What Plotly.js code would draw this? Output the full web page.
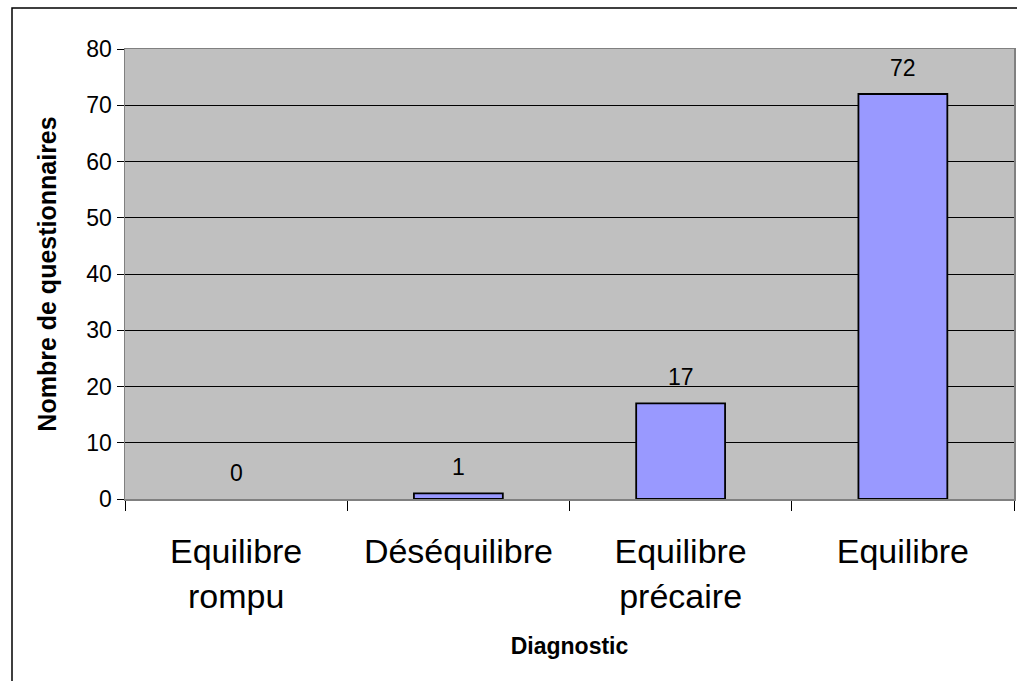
<!DOCTYPE html>
<html>
<head>
<meta charset="utf-8">
<script src="https://cdn.plot.ly/plotly-3.0.1.min.js"></script>
<style>html,body{margin:0;padding:0;background:#fff;}#chart{width:1017px;height:681px;}</style>
</head>
<body>
<div id="chart"></div>
<script>
var categories = ["Equilibre<br>rompu", "Déséquilibre", "Equilibre<br>précaire", "Equilibre"];
var counts = [0, 1, 17, 72];
var yTickValues = [0, 10, 20, 30, 40, 50, 60, 70, 80];

var W = 1017, H = 681;
var L = 125, R = 3, T = 49, B = 182;
var pw = W - L - R, ph = H - T - B;
function px(x){ return (x - L) / pw; }
function py(y){ return (H - B - y) / ph; }

var FONT = "Liberation Sans, Arial, sans-serif";

var trace = {
  type: "bar",
  x: categories,
  y: counts,
  marker: {
    color: "#9999ff",
    line: { color: "#000000", width: counts.map(function(v){ return v > 0 ? 1.8 : 0; }) }
  },
  hoverinfo: "none"
};

var annotations = categories.map(function(c, i){
  return {
    x: c, y: counts[i], xref: "x", yref: "y",
    text: String(counts[i]), showarrow: false,
    yanchor: "bottom", yshift: 11,
    font: { family: FONT, size: 23, color: "#000" }
  };
});

var layout = {
  width: W, height: H,
  margin: { l: L, r: R, t: T, b: B, pad: 0 },
  paper_bgcolor: "#ffffff",
  plot_bgcolor: "#c0c0c0",
  showlegend: false,
  bargap: 0.6,
  font: { family: FONT, color: "#000" },
  xaxis: {
    type: "category",
    tickson: "boundaries",
    ticks: "outside", ticklen: 10, tickcolor: "#000", tickwidth: 1,
    ticklabelstandoff: 22,
    showline: true, linecolor: "#808080", linewidth: 1.5, mirror: true,
    showgrid: false,
    tickfont: { family: FONT, size: 34, color: "#000" },
    title: { text: "<b>Diagnostic</b>", font: { family: FONT, size: 23, color: "#000" }, standoff: 24 }
  },
  yaxis: {
    range: [0, 80],
    tickvals: yTickValues,
    ticktext: yTickValues.map(String),
    ticks: "outside", ticklen: 7, tickcolor: "#000", tickwidth: 1,
    showline: true, linecolor: "#808080", linewidth: 1.5, mirror: true,
    showgrid: true, gridcolor: "#000000", gridwidth: 1,
    zeroline: false,
    tickfont: { family: FONT, size: 23, color: "#000" },
    title: { text: "<b>Nombre de questionnaires</b>", font: { family: FONT, size: 25, color: "#000" }, standoff: 22 }
  },
  annotations: annotations,
  shapes: [{
    type: "rect", xref: "paper", yref: "paper",
    x0: px(12), x1: px(1030), y0: py(700), y1: py(8),
    line: { color: "#000", width: 1.5 }, fillcolor: "rgba(0,0,0,0)", layer: "below"
  }]
};

Plotly.newPlot("chart", [trace], layout, { displayModeBar: false, staticPlot: true });
</script>
</body>
</html>
